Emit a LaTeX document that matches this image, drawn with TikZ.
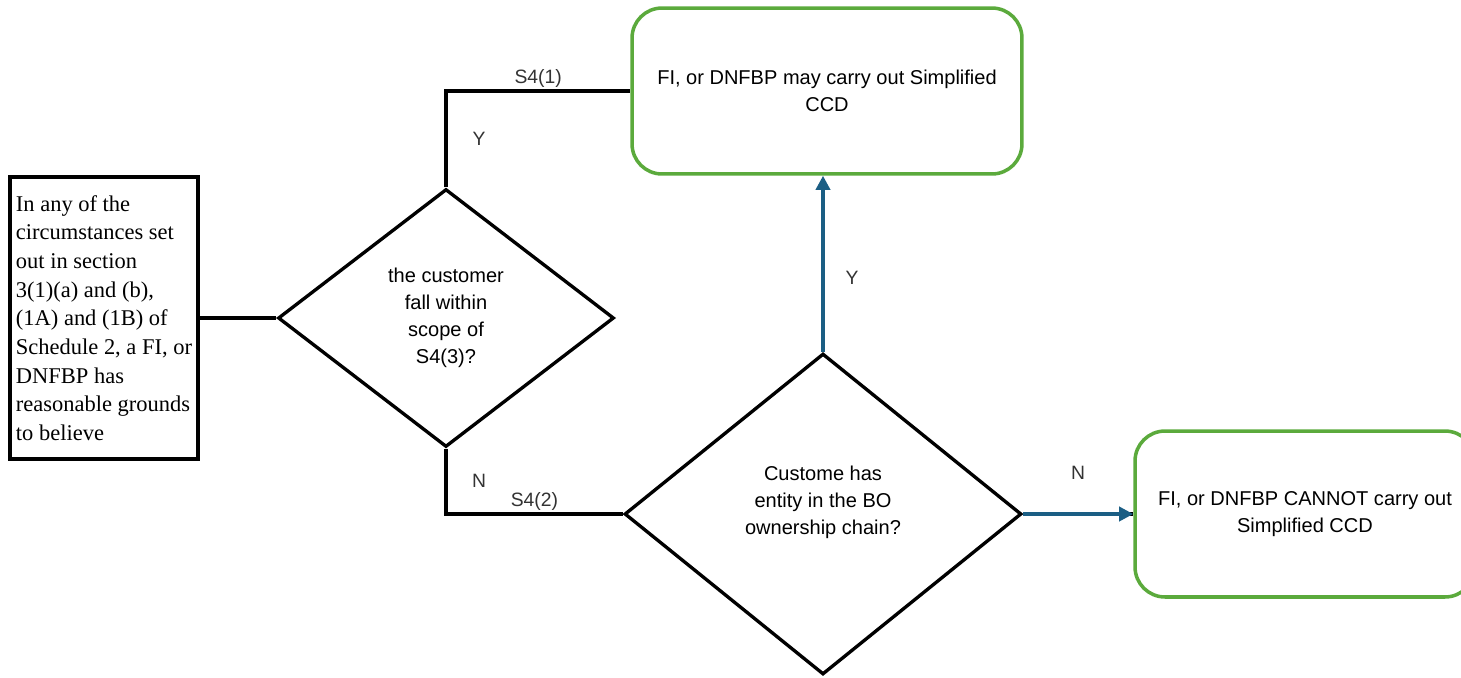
\documentclass[tikz,border=0pt]{standalone}
\usepackage{fontspec}
\setmainfont{Liberation Serif}
\setsansfont{Liberation Sans}
\usetikzlibrary{shapes, arrows.meta}

\definecolor{boxgreen}{RGB}{91,170,60}
\definecolor{flowblue}{RGB}{27,94,132}

\tikzset{
  startbox/.style={draw, line width=1.9pt, rectangle, minimum width=3.76cm, minimum height=5.64cm,
    align=left, inner sep=2pt, font=\fontsize{12.8}{16.3}\selectfont},
  decision/.style={draw, line width=1.9pt, diamond, inner sep=0pt, align=center,
    font=\sffamily\fontsize{11.4}{15.3}\selectfont},
  outcome/.style={draw=boxgreen, line width=2pt, rectangle, rounded corners=0.6cm, align=center,
    minimum height=3.32cm, font=\sffamily\fontsize{11.4}{15.3}\selectfont},
  flow/.style={line width=1.9pt},
  yesno/.style={line width=1.9pt, draw=flowblue, -{Triangle[length=8pt,width=8pt]}},
  lbl/.style={font=\sffamily\fontsize{11}{13}\selectfont, text=black!80, inner sep=1pt}
}

\begin{document}
\begin{tikzpicture}[x=0.02cm, y=-0.02cm]
    \useasboundingbox (0,0) rectangle (1461,677);

    \node[startbox] (src) at (104,318) {In any of the\\circumstances set\\out in section\\3(1)(a) and (b),\\(1A) and (1B) of\\Schedule 2, a FI, or\\DNFBP has\\reasonable grounds\\to believe};
    \node[decision, minimum width=6.72cm, minimum height=5.16cm] (d1) at (446,318) {the customer\\fall within\\scope of\\S4(3)?};
    \node[decision, minimum width=7.94cm, minimum height=6.42cm] (d2) at (823,514) {Custome has\\entity in the BO\\ownership chain?\\\mbox{}};
    \node[outcome, minimum width=7.8cm] (yes) at (827,91) {FI, or DNFBP may carry out Simplified\\CCD};
    \node[outcome, minimum width=6.8cm] (no) at (1305,514) {FI, or DNFBP CANNOT carry out\\Simplified CCD};

    \draw[flow] (src.east) -- (d1.west);
    \draw[flow] (d1.north) |- node[lbl, pos=0.25, xshift=0.66cm] {Y} node[lbl, pos=0.75, above] {S4(1)} (yes.west);
    \draw[flow] (d1.south) |- node[lbl, pos=0.25, xshift=0.66cm] {N} node[lbl, pos=0.75, above] {S4(2)} (d2.west);

    \draw[yesno] (d2.north) -- node[lbl, xshift=0.58cm, yshift=-0.28cm] {Y} (d2.north |- yes.south);
    \draw[flow] (d2.east) -- (no.west);
    \draw[yesno, yshift=0.5pt] (d2.east) -- node[lbl, yshift=0.82cm] {N} (no.west);
\end{tikzpicture}
\end{document}
